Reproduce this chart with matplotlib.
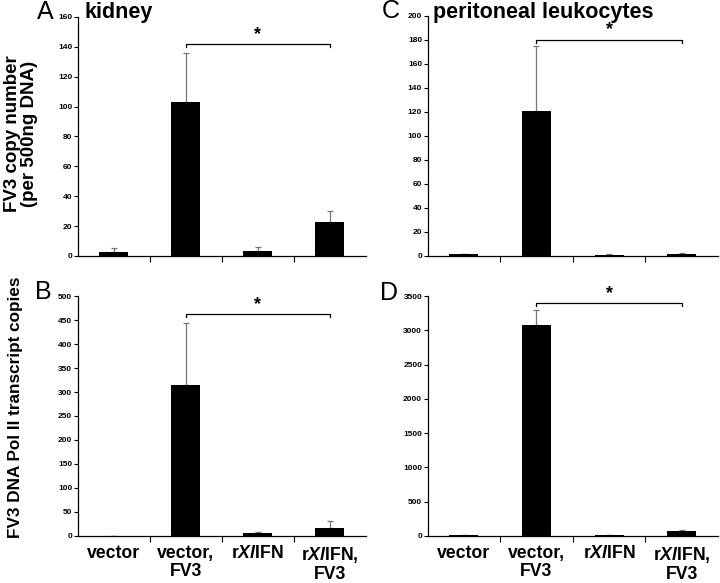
import numpy as np
import matplotlib
matplotlib.use('Agg')
import matplotlib.pyplot as plt

plt.rcParams['font.family'] = ['Liberation Sans', 'DejaVu Sans']
plt.rcParams['mathtext.fontset'] = 'custom'
plt.rcParams['mathtext.it'] = 'Liberation Sans:bold:italic'
plt.rcParams['mathtext.rm'] = 'Liberation Sans:bold'

# groups
groups = ['vector', 'vector,\nFV3', r'r$\it{Xl}$IFN', 'r$\\it{Xl}$IFN,\nFV3']

# A: kidney, FV3 copy number
kidney_dna = [2.5, 103, 3, 22.5]
kidney_dna_err = [2.5, 33, 3, 7.5]
# C: peritoneal leukocytes, FV3 copy number
leuk_dna = [1.5, 121, 1, 2]
leuk_dna_err = [0.3, 54, 0.3, 0.6]
# B: kidney, Pol II transcript copies
kidney_pol = [0, 315, 5, 16]
kidney_pol_err = [0, 130, 3, 14]
# D: peritoneal leukocytes, Pol II transcript copies
leuk_pol = [5, 3080, 5, 70]
leuk_pol_err = [0, 220, 0, 20]

# y limits / tick steps
ylims = {'A': (160, 20), 'C': (200, 20), 'B': (500, 50), 'D': (3500, 500)}
# significance bracket heights (vector,FV3 vs rXl/IFN,FV3)
bracket = {'A': 142, 'C': 180, 'B': 462, 'D': 3400}

fig = plt.figure(figsize=(7.2, 5.83), dpi=100)
axA = fig.add_axes([0.108, 0.561, 0.400, 0.410])
axC = fig.add_axes([0.594, 0.561, 0.403, 0.412])
axB = fig.add_axes([0.108, 0.081, 0.400, 0.411])
axD = fig.add_axes([0.594, 0.081, 0.403, 0.411])

panels = [
    (axA, 'A', kidney_dna, kidney_dna_err),
    (axC, 'C', leuk_dna, leuk_dna_err),
    (axB, 'B', kidney_pol, kidney_pol_err),
    (axD, 'D', leuk_pol, leuk_pol_err),
]

x = np.arange(len(groups))
for ax, key, vals, err in panels:
    ymax, step = ylims[key]
    ax.bar(x, vals, width=0.4, color='black', zorder=2)
    ax.errorbar(x, vals, yerr=[np.zeros(len(err)), err], fmt='none',
                ecolor='#777777', elinewidth=0.9, capsize=2.5, capthick=0.9, zorder=1)
    ax.set_xlim(-0.5, 3.5)
    ax.set_ylim(0, ymax)
    ax.set_yticks(np.arange(0, ymax + 1, step))
    ax.tick_params(axis='y', direction='out', length=3, width=0.8, labelsize=6, pad=1)
    for lab in ax.get_yticklabels():
        lab.set_fontweight('bold')
    ax.set_xticks([0.5, 1.5, 2.5])
    ax.set_xticklabels([])
    ax.tick_params(axis='x', which='major', direction='out', length=4, width=0.8)
    ax.set_xticks(x, minor=True)
    ax.tick_params(axis='x', which='minor', length=0, pad=7)
    if key in ('B', 'D'):
        ax.set_xticklabels(groups, minor=True, fontsize=12.7, fontweight='bold',
                           linespacing=1.05)
    ax.spines['top'].set_visible(False)
    ax.spines['right'].set_visible(False)
    ax.spines['left'].set_linewidth(0.9)
    ax.spines['bottom'].set_linewidth(0.9)

    # significance bracket
    h = bracket[key]
    d = ymax * 0.012
    ax.plot([1, 1, 3, 3], [h - d, h, h, h - d], color='black', lw=0.9)
    ax.text(2, h + ymax * 0.005, '*', ha='center', va='bottom', fontsize=13, fontweight='bold')

axA.set_ylabel('FV3 copy number\n(per 500ng DNA)', fontsize=13.5, fontweight='bold',
               linespacing=0.95)
axB.set_ylabel('FV3 DNA Pol II transcript copies', fontsize=12.3, fontweight='bold')
axA.yaxis.set_label_coords(-0.139, 0.51)
axB.yaxis.set_label_coords(-0.19, 0.537)

# panel letters and titles
fig.text(0.052, 1 - 19 / 583, 'A', fontsize=18, ha='left', va='baseline')
fig.text(0.117, 1 - 18 / 583, 'kidney', fontsize=15.5, fontweight='bold', ha='left', va='baseline')
fig.text(0.530, 1 - 18 / 583, 'C', fontsize=18, ha='left', va='baseline')
fig.text(0.601, 1 - 18 / 583, 'peritoneal leukocytes', fontsize=15.5, fontweight='bold',
         ha='left', va='baseline')
fig.text(0.049, 1 - 299 / 583, 'B', fontsize=18, ha='left', va='baseline')
fig.text(0.528, 1 - 300 / 583, 'D', fontsize=18, ha='left', va='baseline')

fig.savefig('out.png', dpi=100)
